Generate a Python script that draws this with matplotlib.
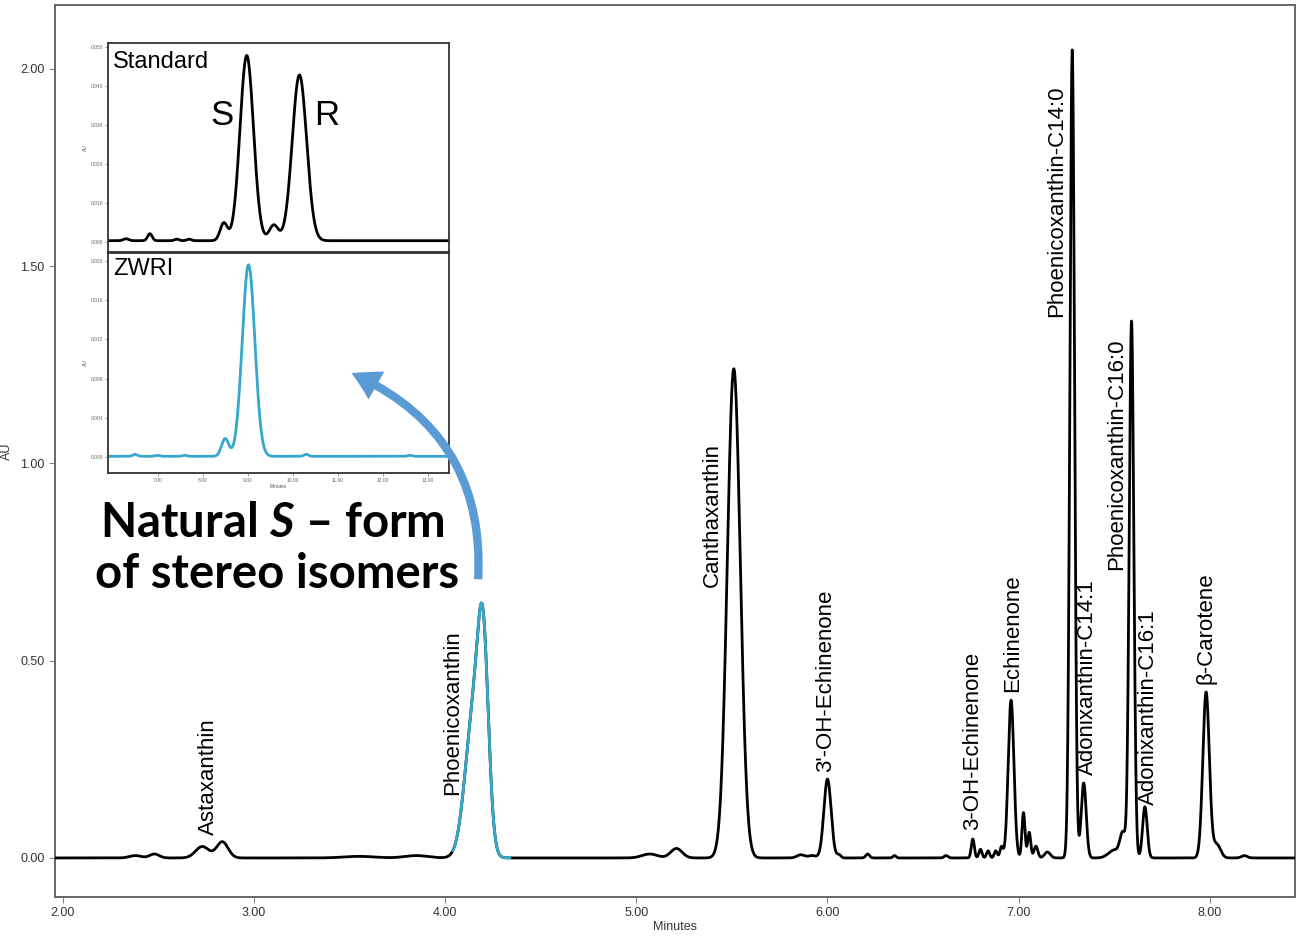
import numpy as np
import matplotlib
matplotlib.use("Agg")
import matplotlib.pyplot as plt
from matplotlib.patches import FancyArrowPatch, ArrowStyle

# ---------------- data ----------------
# main chromatogram: peak retention times (min), heights (AU), widths (min)
main_rt = [2.38, 2.48, 2.73, 2.835, 3.55, 3.85, 4.15, 4.20, 5.07, 5.21, 5.51,
           5.86, 5.92, 6.00, 6.06, 6.21, 6.35, 6.62, 6.76, 6.80, 6.84, 6.88,
           6.91, 6.96, 7.025, 7.055, 7.09, 7.15, 7.28, 7.34, 7.50, 7.545,
           7.59, 7.66, 7.98, 8.035, 8.18]
main_h = [0.006, 0.010, 0.029, 0.041, 0.004, 0.006, 0.36, 0.43, 0.010, 0.024,
          1.24, 0.008, 0.006, 0.20, 0.008, 0.010, 0.006, 0.006, 0.048, 0.022,
          0.018, 0.018, 0.028, 0.40, 0.115, 0.065, 0.030, 0.015, 2.05, 0.19,
          0.02, 0.06, 1.36, 0.13, 0.42, 0.035, 0.006]
main_w = [0.03, 0.025, 0.035, 0.03, 0.08, 0.06, 0.045, 0.028, 0.04, 0.03,
          0.034, 0.02, 0.02, 0.019, 0.01, 0.01, 0.008, 0.01, 0.008, 0.008,
          0.008, 0.008, 0.008, 0.015, 0.008, 0.008, 0.01, 0.015, 0.012, 0.013,
          0.03, 0.015, 0.012, 0.012, 0.017, 0.02, 0.015]
highlight_range = [4.04, 4.34]

label_names = ["Astaxanthin", "Phoenicoxanthin", "Canthaxanthin", "3'-OH-Echinenone",
               "3-OH-Echinenone", "Echinenone", "Phoenicoxanthin-C14:0",
               "Adonixanthin-C14:1", "Phoenicoxanthin-C16:0", "Adonixanthin-C16:1",
               "\u03b2-Carotene"]
label_x = [2.76, 4.04, 5.40, 5.99, 6.76, 6.97, 7.20, 7.36, 7.51, 7.68, 7.98]
label_y = [0.058, 0.16, 0.688, 0.218, 0.071, 0.42, 1.37, 0.21, 0.731, 0.135, 0.44]

x_ticks = [2.0, 3.0, 4.0, 5.0, 6.0, 7.0, 8.0]
y_ticks = [0.0, 0.5, 1.0, 1.5, 2.0]

# inset: standard (S/R isomers)
std_rt = [6.3, 6.83, 7.43, 7.7, 8.47, 8.98, 9.58, 10.15]
std_h = [0.0005, 0.0018, 0.0004, 0.0004, 0.0045, 0.0475, 0.0040, 0.0425]
std_w = [0.06, 0.05, 0.05, 0.05, 0.08, 0.15, 0.10, 0.16]
std_base = 0.0003
std_yticks = [0.0, 0.01, 0.02, 0.03, 0.04, 0.05]

# inset: ZWRI sample
zw_rt = [6.5, 7.0, 7.6, 8.5, 9.02, 10.3, 12.6]
zw_h = [0.0002, 0.0001, 0.0001, 0.0018, 0.0195, 0.0002, 0.0001]
zw_w = [0.05, 0.05, 0.05, 0.08, 0.14, 0.05, 0.05]
zw_base = 0.0001
zw_yticks = [0.0, 0.004, 0.008, 0.012, 0.016, 0.020]
inset_xticks = [7.0, 8.0, 9.0, 10.0, 11.0, 12.0, 13.0]

BLUE = "#35A8CB"
ARROW = "#5B9BD5"


def trace(x, rts, hs, ws, base=0.0):
    y = np.full_like(x, base)
    for r, h, w in zip(rts, hs, ws):
        y += h * np.exp(-0.5 * ((x - r) / w) ** 2)
    return y


W, H = 1297, 936
fig = plt.figure(figsize=(W / 100, H / 100), dpi=100)
plt.rcParams['font.family'] = ['Liberation Sans', 'DejaVu Sans']


def fx(px):
    return px / W


def fy(py):
    return 1 - py / H


# ---------------- main axes ----------------
ax = fig.add_axes([fx(55), fy(897), fx(1295) - fx(55), fy(5) - fy(897)])
x = np.linspace(1.96, 8.45, 6000)
y = trace(x, main_rt, main_h, main_w)
ax.plot(x, y, color="black", lw=2.0, zorder=3)
m = (x >= highlight_range[0]) & (x <= highlight_range[1])
ax.plot(x[m], y[m], color=BLUE, lw=2.0, zorder=4)
ax.set_xlim(1.96, 8.445)
ax.set_ylim(-0.099, 2.162)
ax.set_xticks(x_ticks)
ax.set_xticklabels([f"{v:.2f}" for v in x_ticks],
                   family=['Liberation Sans Narrow', 'Liberation Sans'])
ax.set_yticks(y_ticks)
ax.set_yticklabels([f"{v:.2f}" for v in y_ticks])
ax.tick_params(labelsize=9, length=4, color="#888888", labelcolor="#333333", width=0.8)
for s in ax.spines.values():
    s.set_color("#666666")
    s.set_linewidth(1.4)
ax.set_xlabel("Minutes", fontsize=9, color="#333333", labelpad=1,
              family=['Liberation Sans Narrow', 'Liberation Sans'])
ax.set_ylabel("AU", fontsize=9, color="#333333")
ax.yaxis.set_label_coords((13 - 55) / 1240, 0.5)

for name, lx, ly in zip(label_names, label_x, label_y):
    ax.text(lx, ly, name, rotation=90, ha="center", va="bottom",
            fontsize=16, color="black", zorder=5)

# ---------------- inset: Standard ----------------
ax1 = fig.add_axes([fx(108), fy(252), fx(449) - fx(108), fy(43) - fy(252)])
xi = np.linspace(5.9, 13.47, 2000)
ax1.plot(xi, trace(xi, std_rt, std_h, std_w, std_base), color="black", lw=2.0)
ax1.set_xlim(5.9, 13.47)
ax1.set_ylim(-0.0026, 0.051)
ax1.set_yticks(std_yticks)
ax1.set_yticklabels([f"{v:.3f}" for v in std_yticks])
ax1.set_xticks(inset_xticks)
ax1.set_xticklabels([])
ax1.set_ylabel("AU", fontsize=3.5, color="#555555", labelpad=2)
ax1.text(0.015, 0.96, "Standard", transform=ax1.transAxes, ha="left", va="top",
         fontsize=17)
ax1.text(8.43, 0.0323, "S", ha="center", va="center", fontsize=25)
ax1.text(10.75, 0.0323, "R", ha="center", va="center", fontsize=25)

# ---------------- inset: ZWRI ----------------
ax2 = fig.add_axes([fx(108), fy(473), fx(449) - fx(108), fy(253) - fy(473)])
ax2.plot(xi, trace(xi, zw_rt, zw_h, zw_w, zw_base), color=BLUE, lw=2.0)
ax2.set_xlim(5.9, 13.47)
ax2.set_ylim(-0.0016, 0.0208)
ax2.set_yticks(zw_yticks)
ax2.set_yticklabels([f"{v:.3f}" for v in zw_yticks])
ax2.set_xticks(inset_xticks)
ax2.set_xticklabels([f"{v:.2f}" for v in inset_xticks])
ax2.set_ylabel("AU", fontsize=3.5, color="#555555", labelpad=2)
ax2.set_xlabel("Minutes", fontsize=3.5, color="#555555", labelpad=1)
ax2.text(0.015, 0.975, "ZWRI", transform=ax2.transAxes, ha="left", va="top",
         fontsize=17)

for a in (ax1, ax2):
    a.tick_params(labelsize=3.5, length=2, width=0.5, color="#777777",
                  labelcolor="#666666", pad=1.5)
    for s in a.spines.values():
        s.set_color("#333333")
        s.set_linewidth(1.3)

# ---------------- annotation ----------------
plt.rcParams['mathtext.fontset'] = 'custom'
plt.rcParams['mathtext.it'] = 'Lato:italic:bold'
plt.rcParams['mathtext.rm'] = 'Lato:bold'
fig.text(fx(100), fy(537), "Natural $S$ \u2013 form", fontsize=34, weight="bold",
         family="Lato", ha="left", va="baseline")
fig.text(fx(95), fy(588), "of stereo isomers", fontsize=34, weight="bold",
         family="Lato", ha="left", va="baseline")

arrow = FancyArrowPatch((W * fx(478), H * fy(582)), (W * fx(349), H * fy(372)),
                        transform=None,
                        connectionstyle="arc3,rad=0.35",
                        arrowstyle=ArrowStyle.Simple(head_length=1.0, head_width=1.15,
                                                     tail_width=0.3),
                        mutation_scale=20, color=ARROW, lw=0, zorder=10)
fig.patches.append(arrow)

fig.savefig("out.png", dpi=100)
